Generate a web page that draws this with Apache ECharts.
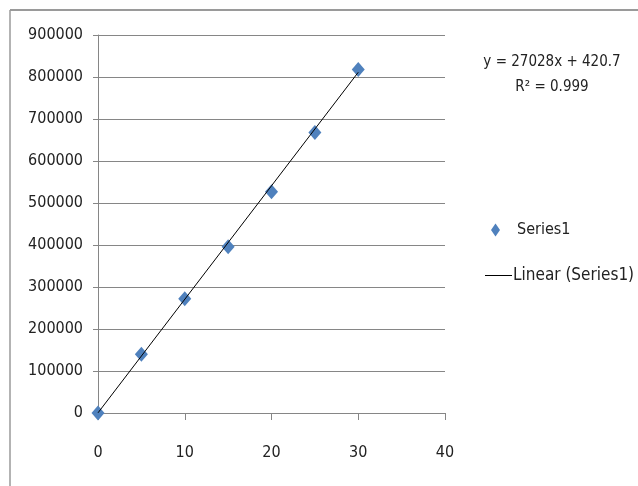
<!DOCTYPE html>
<html>
<head>
<meta charset="utf-8">
<script src="https://cdn.jsdelivr.net/npm/echarts@6/dist/echarts.min.js"></script>
<style>
html,body{margin:0;padding:0;background:#fff;}
#chart{width:638px;height:486px;}
</style>
</head>
<body>
<div id="chart"></div>
<script>
var xValues = [0, 5, 10, 15, 20, 25, 30];
var yValues = [0, 140000, 272000, 396000, 527000, 668000, 818000];
var trendSlope = 27028;
var trendIntercept = 420.7;
var trendRange = [0, 30];
var equationLines = ['y = 27028x + 420.7', 'R\u00B2 = 0.999'];
var seriesName = 'Series1';
var trendName = 'Linear (Series1)';

var FONT = "'DejaVu Sans Condensed', 'Liberation Sans', sans-serif";

var scatterData = xValues.map(function (x, i) { return [x, yValues[i]]; });
var trendData = trendRange.map(function (x) { return [x, trendSlope * x + trendIntercept]; });

var chart = echarts.init(document.getElementById('chart'));
chart.setOption({
  animation: false,
  backgroundColor: '#ffffff',
  textStyle: { fontFamily: FONT },
  grid: { left: 98, right: 193, top: 35, bottom: 73 },
  xAxis: {
    type: 'value', min: 0, max: 40, interval: 10,
    axisLine: { show: true, lineStyle: { color: '#868686', width: 1 } },
    axisTick: { show: true, inside: false, length: 7, lineStyle: { color: '#868686' } },
    splitLine: { show: false },
    axisLabel: { color: '#222', fontSize: 16, margin: 32, fontFamily: FONT }
  },
  yAxis: {
    type: 'value', min: 0, max: 900000, interval: 100000,
    axisLine: { show: true, lineStyle: { color: '#868686', width: 1 } },
    axisTick: { show: true, inside: false, length: 5, lineStyle: { color: '#868686' } },
    splitLine: { show: true, lineStyle: { color: '#868686', width: 1 } },
    axisLabel: { color: '#222', fontSize: 16, margin: 15, fontFamily: FONT,
      formatter: function (v) { return String(v); } }
  },
  legend: [
    {
      data: [{ name: seriesName, icon: 'diamond' }],
      left: 486, top: 217, itemWidth: 9, itemHeight: 13,
      textStyle: { fontSize: 16, color: '#222', fontFamily: FONT, padding: [0, 0, 0, 12] }
    },
    {
      data: [{ name: trendName, icon: 'rect', itemStyle: { color: '#000' } }],
      left: 480, top: 262, itemWidth: 27, itemHeight: 1,
      textStyle: { fontSize: 17, color: '#222', fontFamily: FONT, padding: [0, 0, 0, -4] }
    }
  ],
  graphic: [
    { type: 'line', shape: { x1: 10, y1: 10, x2: 638, y2: 10 }, style: { stroke: '#9a9a9a', lineWidth: 2 } },
    { type: 'line', shape: { x1: 10, y1: 10, x2: 10, y2: 486 }, style: { stroke: '#9a9a9a', lineWidth: 1.5 } },
    { type: 'text', x: 552, y: 62, style: { text: equationLines[0], textAlign: 'center', textVerticalAlign: 'middle', fontSize: 15, fontFamily: FONT, fill: '#222' } },
    { type: 'text', x: 552, y: 87, style: { text: equationLines[1], textAlign: 'center', textVerticalAlign: 'middle', fontSize: 15, fontFamily: FONT, fill: '#222' } }
  ],
  series: [
    {
      name: trendName, type: 'line', data: trendData,
      symbol: 'none', z: 3,
      lineStyle: { color: '#000000', width: 1 },
      itemStyle: { color: '#000000' }
    },
    {
      name: seriesName, type: 'scatter', data: scatterData,
      symbol: 'diamond', symbolSize: [13, 15], z: 2,
      itemStyle: { color: '#4F81BD', opacity: 1 }
    }
  ]
});
</script>
</body>
</html>
